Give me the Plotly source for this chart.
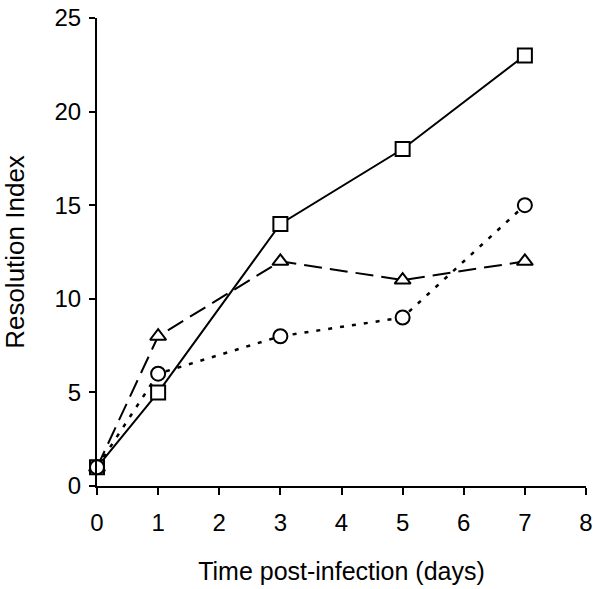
import plotly.graph_objects as go

days = [0, 1, 3, 5, 7]
series_square = [1, 5, 14, 18, 23]
series_triangle = [1, 8, 12, 11, 12]
series_circle = [1, 6, 8, 9, 15]

x_ticks = [0, 1, 2, 3, 4, 5, 6, 7, 8]
y_ticks = [0, 5, 10, 15, 20, 25]

fig = go.Figure()
fig.add_trace(go.Scatter(x=days, y=series_square, mode="lines+markers",
                         line=dict(color="black", width=2, dash="solid"),
                         marker=dict(symbol="square", size=14, color="white",
                                     line=dict(width=2, color="black")),
                         cliponaxis=False, showlegend=False))
fig.add_trace(go.Scatter(x=days, y=series_triangle, mode="lines+markers",
                         line=dict(color="black", width=2, dash="18px,8px"),
                         marker=dict(symbol="triangle-up", size=14, color="white",
                                     line=dict(width=2, color="black")),
                         cliponaxis=False, showlegend=False))
fig.add_trace(go.Scatter(x=days, y=series_circle, mode="lines+markers",
                         line=dict(color="black", width=2.5, dash="4px,8px"),
                         marker=dict(symbol="circle", size=14, color="white",
                                     line=dict(width=2, color="black")),
                         cliponaxis=False, showlegend=False))

font_family = "Liberation Sans, Arial, sans-serif"
fig.update_layout(
    width=602, height=589,
    margin=dict(l=97, r=16, t=18, b=103),
    plot_bgcolor="white", paper_bgcolor="white",
    font=dict(family=font_family, size=24, color="black"),
    xaxis=dict(range=[0, 8], tickvals=x_ticks, showgrid=False, zeroline=False,
               showline=True, linecolor="black", linewidth=2, automargin=False,
               ticks="outside", ticklen=7, tickwidth=2, tickcolor="black",
               tickfont=dict(size=24), ticklabelstandoff=7, ticklabeloverflow="allow",
               title=dict(text="Time post-infection (days)", font=dict(size=25), standoff=28)),
    yaxis=dict(range=[0, 25], tickvals=y_ticks, showgrid=False, zeroline=False,
               showline=True, linecolor="black", linewidth=2, automargin=False,
               ticks="outside", ticklen=6, tickwidth=2, tickcolor="black",
               tickfont=dict(size=24), ticklabelstandoff=3, ticklabeloverflow="allow",
               title=dict(text="Resolution Index", font=dict(size=26), standoff=30)),
)
fig.write_html("out.html", config={"displayModeBar": False},
               post_script="document.body.style.margin='0px';")
